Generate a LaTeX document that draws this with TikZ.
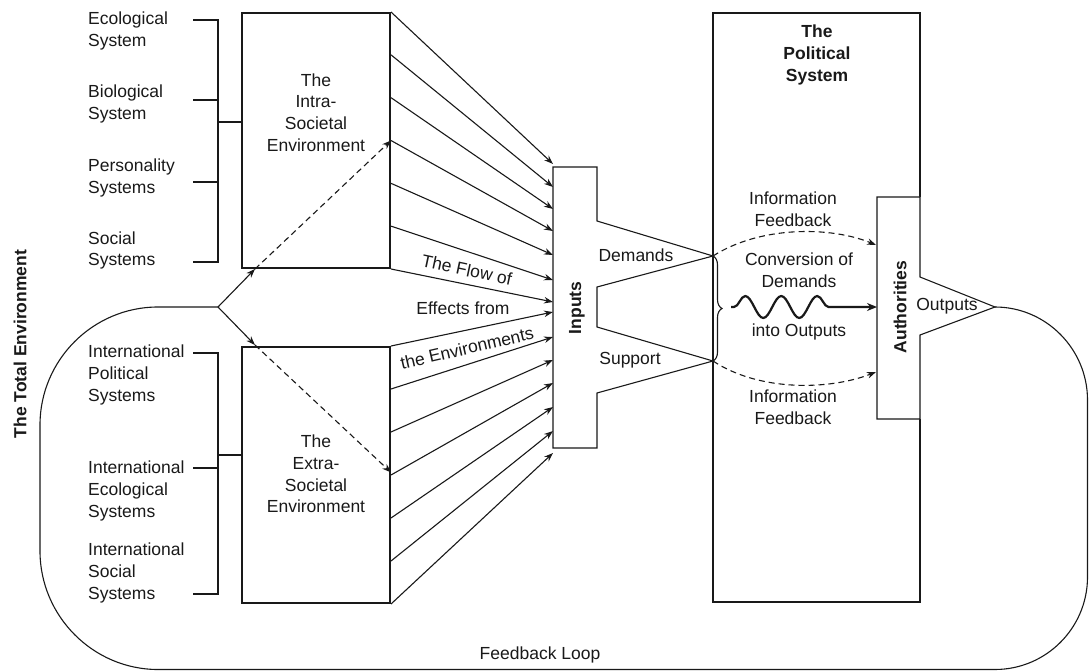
\documentclass[tikz,border=0pt]{standalone}
\usepackage{fontspec}
\setmainfont{Liberation Sans}
\usetikzlibrary{arrows.meta,calc,decorations.pathmorphing,decorations.pathreplacing}
\begin{document}
\begin{tikzpicture}[x=1pt,y=-1pt,
  lbl/.style={font=\fontsize{17.5}{21.7}\selectfont, align=center, inner sep=0pt, text=black!90},
  lbll/.style={lbl, align=left, anchor=west},
  boldlbl/.style={lbl, font=\fontsize{17.5}{21.7}\selectfont\bfseries},
  boxline/.style={line width=2pt, draw=black!90},
  brk/.style={line width=2pt, draw=black!90},
  arr/.style={line width=1.1pt, draw=black!90, -{Stealth[length=9pt,width=6.5pt]}},
  thinline/.style={line width=1.1pt, draw=black!90},
  dashline/.style={dash pattern=on 6pt off 4pt}
]
\useasboundingbox (0,0) rectangle (1089,671);

% environment boxes
\node[boxline, draw, minimum width=148pt, minimum height=255pt, inner sep=0pt] (intra) at (316,140.5) {};
\node[boxline, draw, minimum width=148pt, minimum height=256pt, inner sep=0pt] (extra) at (316,475) {};
\node[lbl] (intratxt) at (316,112.5) {The\\Intra-\\Societal\\Environment};
\node[lbl] (extratxt) at (316,474) {The\\Extra-\\Societal\\Environment};

% component systems
\node[lbll] (eco) at (88,31) {Ecological\\System};
\node[lbll] (bio) at (88,104) {Biological\\System};
\node[lbll] (pers) at (88,178) {Personality\\Systems};
\node[lbll] (soc) at (88,250.5) {Social\\Systems};
\node[lbll] (ipol) at (88,375) {International\\Political\\Systems};
\node[lbll] (ieco) at (88,491) {International\\Ecological\\Systems};
\node[lbll] (isoc) at (88,573) {International\\Social\\Systems};

% brackets
\draw[brk] (193,20) -| (218,262) -- (193,262);
\draw[brk] (193,100) -- (218,100);
\draw[brk] (193,182) -- (218,182);
\draw[brk] (218,122) -- (218,122 -| intra.west);
\draw[brk] (193,353) -| (218,594) -- (193,594);
\draw[brk] (193,468) -- (218,468);
\draw[brk] (218,455) -- (218,455 -| extra.west);

% political system frame (right side interrupted by the authorities)
\draw[boxline] (920,197) -- (920,13) -- (713,13) -- (713,602) -- (920,602) -- (920,419);
\node[boldlbl] (poltitle) at (817,55) {The\\Political\\System};

% inputs shape
\coordinate (dtip) at (713,256);
\coordinate (stip) at (713,361);
\draw[thinline, fill=white] (553,167) -- (597,167) -- (597,221) -- (dtip) -- (597,287) -- (597,327)
  -- (stip) -- (597,393) -- (597,448) -- (553,448) -- cycle;
\node[boldlbl, rotate=90] (inputs) at (577,308) {Inputs};
\node[lbl] (demands) at (636,255) {Demands};
\node[lbl] (support) at (630,360) {Support};

% authorities shape
\coordinate (outtip) at (995,307);
\coordinate (authw) at (877,307);
\draw[thinline, fill=white] (877,197) -- (920,197) -- (920,277) -- (outtip) -- (920,335) -- (920,419) -- (877,419) -- cycle;
\node[boldlbl, rotate=90] (auth) at (900,307) {Authorities};
\node[lbl] (outputs) at (947,306) {Outputs};

% flows from the environments into the inputs
\foreach \i/\ty in {0/164,1/187,2/209,3/231,4/255,5/280,6/302}
  \coordinate (ia\i) at (553,\ty);
\foreach \i/\ty in {0/312,1/337,2/360,3/383,4/407,5/431,6/453}
  \coordinate (ib\i) at (553,\ty);
\foreach \i in {0,...,6}{
  \draw[arr] ($(intra.north east)!\i/6!(intra.south east)$) -- (ia\i);
  \draw[arr] ($(extra.north east)!\i/6!(extra.south east)$) -- (ib\i);
}
\node[lbl, rotate=-12] (flow1) at (467,270) {The Flow of};
\node[lbl] (flow2) at (463,308) {Effects from};
\node[lbl, rotate=13] (flow3) at (467,348) {the Environments};

% total environment split
\coordinate (split) at (218,307);
\coordinate (ua) at (255,269);
\coordinate (la) at (255,345);
\draw[arr] (split) -- (ua);
\draw[arr] (split) -- (la);
\draw[arr, dashline] (ua) -- ($(intra.north east)!0.5!(intra.south east)$);
\draw[arr, dashline] (la) -- ($(extra.north east)!0.49!(extra.south east)$);
\node[boldlbl, rotate=90] (total) at (20,344) {The Total Environment};

% conversion inside the political system
\coordinate (btip) at (731,307);
\draw[thinline, decorate, decoration={brace, amplitude=9pt}] (dtip) -- (stip);
\draw[line width=2.2pt, draw=black!90, -{Stealth[length=10pt,width=8pt]}, decorate,
  decoration={snake, segment length=36pt, amplitude=11pt, pre length=3pt, post length=35pt}] (btip) -- (authw);
\draw[arr, dashline] (dtip) .. controls (760,226) and (830,226) .. (876,245);
\draw[arr, dashline] (stip) .. controls (760,392) and (830,390) .. (876,372);
\node[lbl] (infofb1) at (793,209) {Information\\Feedback};
\node[lbl] (conv) at (799,270) {Conversion of\\Demands};
\node[lbl] (intoout) at (799,332) {into Outputs};
\node[lbl] (infofb2) at (793,407.5) {Information\\Feedback};

% feedback loop
\draw[thinline] (outtip) .. controls (1046,307) and (1087.5,349) .. (1087.5,400) -- (1087.5,577)
  .. controls (1087.5,628) and (1046,669.5) .. (995,669.5) -- (158,669.5)
  .. controls (93,669.5) and (40,616) .. (40,551) -- (40,425)
  .. controls (40,360) and (93,307) .. (158,307) -- (split);
\node[lbl] (fbloop) at (540,655) {Feedback Loop};
\end{tikzpicture}
\end{document}
